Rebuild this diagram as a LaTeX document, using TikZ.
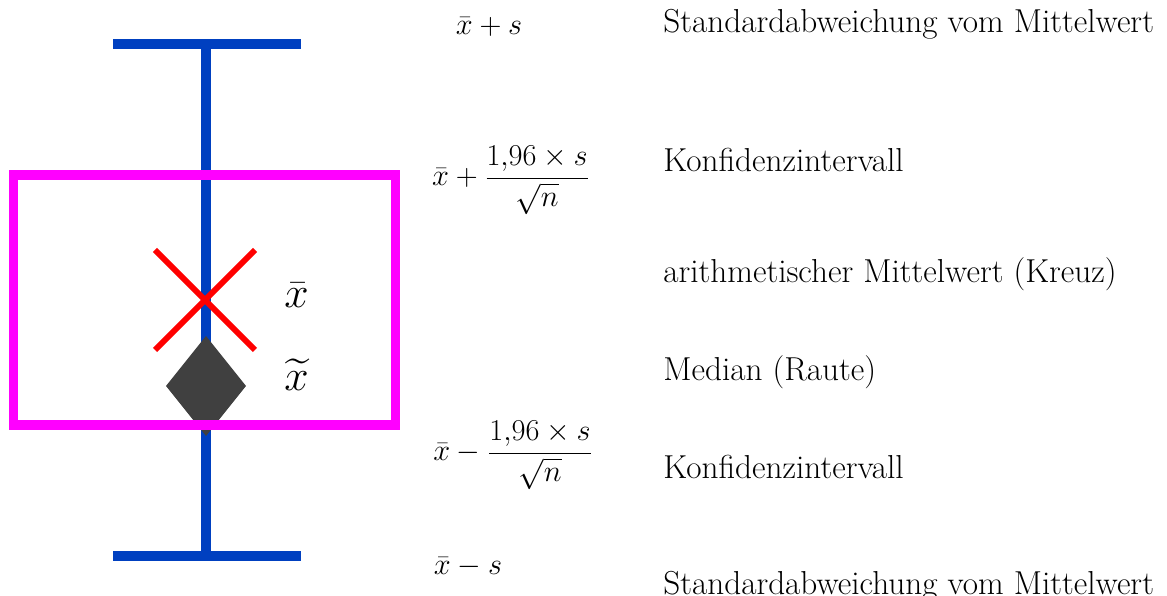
\documentclass[tikz,border=0pt]{standalone}
\usepackage{amsmath}
\usepackage{xcolor}
\usetikzlibrary{positioning}
\definecolor{BarBlue}{RGB}{0,64,192}
\definecolor{BoxMagenta}{RGB}{255,0,255}
\definecolor{CrossRed}{RGB}{255,0,0}
\definecolor{RauteGrey}{RGB}{64,64,64}
\tikzset{
  bar/.style={draw=BarBlue,line width=0.2cm},
  ci/.style={draw=BoxMagenta,line width=0.19cm},
  kreuz/.style={draw=CrossRed,line width=0.12cm},
  formel/.style={anchor=center,inner sep=0pt,font=\fontsize{16}{19}\selectfont},
  sym/.style={anchor=west,inner sep=0pt,font=\fontsize{26}{30}\selectfont},
  label/.style={anchor=west,inner sep=0pt,font=\fontsize{18.9}{22}\selectfont},
}
\begin{document}
\begin{tikzpicture}
  \useasboundingbox (0,0) rectangle (23.34,11.92);
  % whisker
  \coordinate (top) at (4.12,11.04);
  \coordinate (bot) at (4.12,0.80);
  \draw[bar] (top) -- (bot);
  \draw[bar] (2.26,11.04) -- (6.01,11.04);
  \draw[bar] (2.26,0.80) -- (6.01,0.80);
  % median
  \coordinate (med) at (4.12,4.20);
  \fill[RauteGrey] ([yshift=1.0cm]med) -- ([xshift=0.8cm]med)
     -- ([yshift=-1.0cm]med) -- ([xshift=-0.8cm]med) -- cycle;
  % mean
  \coordinate (mw) at (4.10,5.92);
  \draw[kreuz] ([shift={(-1,1)}]mw) -- ([shift={(1,-1)}]mw);
  \draw[kreuz] ([shift={(-1,-1)}]mw) -- ([shift={(1,1)}]mw);
  % confidence box
  \draw[ci] (0.27,3.42) rectangle (7.91,8.42);
  % symbols
  \node[sym] (xbar) at (5.68,6.02) {$\bar{x}$};
  \node[sym] (xtil) at (5.68,4.42) {$\widetilde{x}$};
  % formulas
  \node[formel] (f1) at (9.78,11.38) {$\bar{x}+s$};
  \node[formel] (f2) at (10.22,8.32) {$\bar{x}+\dfrac{1{,}96\times s}{\sqrt{n}}$};
  \node[formel] (f3) at (10.26,2.82) {$\bar{x}-\dfrac{1{,}96\times s}{\sqrt{n}}$};
  \node[formel] (f4) at (9.36,0.58) {$\bar{x}-s$};
  % descriptions
  \node[label] (l1) at (13.26,11.44) {Standardabweichung vom Mittelwert};
  \node[label] (l2) at (13.26,8.72) {Konfidenzintervall};
  \node[label] (l3) at (13.26,6.44) {arithmetischer Mittelwert (Kreuz)};
  \node[label] (l4) at (13.26,4.48) {Median (Raute)};
  \node[label] (l5) at (13.26,2.58) {Konfidenzintervall};
  \node[label] (l6) at (13.26,0.20) {Standardabweichung vom Mittelwert};
\end{tikzpicture}
\end{document}
